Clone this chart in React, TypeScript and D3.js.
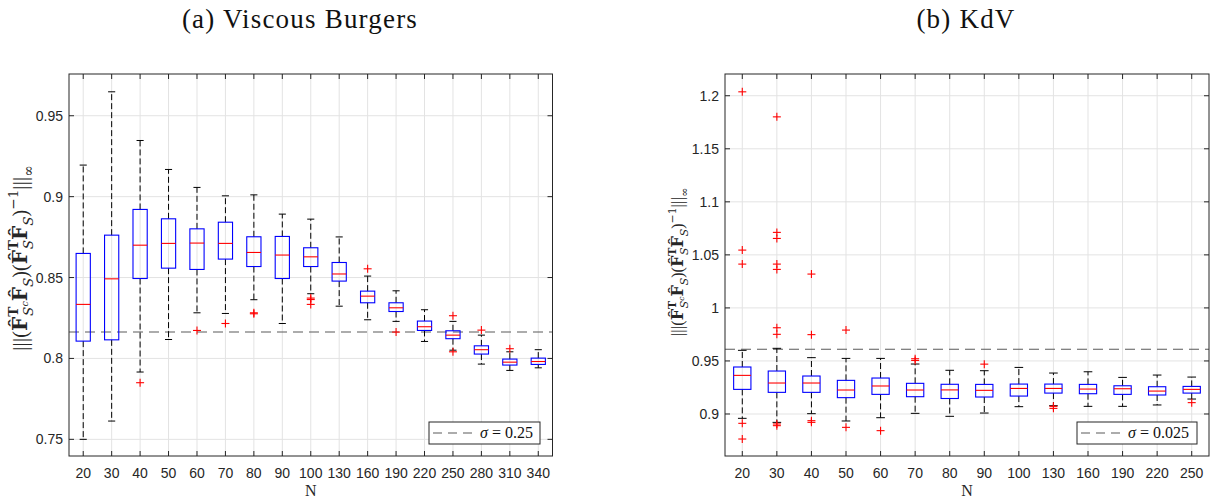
import React from "react";
import * as d3 from "d3";

// ---------- Panel (a) Viscous Burgers ----------
const categoriesA = [20, 30, 40, 50, 60, 70, 80, 90, 100, 130, 160, 190, 220, 250, 280, 310, 340];
const whiskerLowA = [0.75, 0.7613, 0.7916, 0.8117, 0.8282, 0.8278, 0.8363, 0.8216, 0.84, 0.8323, 0.8239, 0.8229, 0.8105, 0.8051, 0.7965, 0.7926, 0.7942];
const q1A = [0.8107, 0.8115, 0.8494, 0.8558, 0.855, 0.8614, 0.8568, 0.8494, 0.8568, 0.8478, 0.8344, 0.829, 0.8173, 0.8122, 0.8027, 0.7959, 0.7963];
const medianA = [0.8334, 0.8492, 0.87, 0.8711, 0.8713, 0.8711, 0.8655, 0.8639, 0.8628, 0.8522, 0.8385, 0.8313, 0.8196, 0.8144, 0.8054, 0.7977, 0.7981];
const q3A = [0.8649, 0.8762, 0.8921, 0.8863, 0.8801, 0.8842, 0.8752, 0.8754, 0.8684, 0.8593, 0.8416, 0.8344, 0.8231, 0.8171, 0.8078, 0.7996, 0.8002];
const whiskerHighA = [0.9195, 0.9648, 0.9347, 0.9168, 0.9057, 0.9005, 0.9011, 0.8892, 0.8861, 0.8751, 0.8509, 0.8418, 0.8301, 0.8229, 0.8144, 0.8041, 0.8054];
const outlierCatsA = [40, 60, 70, 80, 80, 100, 100, 100, 160, 190, 250, 250, 280, 310];
const outlierValsA = [0.785, 0.8173, 0.8216, 0.8276, 0.8282, 0.8373, 0.8364, 0.8334, 0.8554, 0.8163, 0.8264, 0.8041, 0.8175, 0.806];
const yTicksA = [0.75, 0.8, 0.85, 0.9, 0.95];
const yDomainA = [0.7397, 0.9758];
const refA = 0.8163;
const legendA = "0.25";

// ---------- Panel (b) KdV ----------
const categoriesB = [20, 30, 40, 50, 60, 70, 80, 90, 100, 130, 160, 190, 220, 250];
const whiskerLowB = [0.8959, 0.8921, 0.9003, 0.8934, 0.8965, 0.9006, 0.8978, 0.9009, 0.9069, 0.9078, 0.9072, 0.9072, 0.9085, 0.9141];
const q1B = [0.9232, 0.9204, 0.9204, 0.9154, 0.9185, 0.9163, 0.9146, 0.916, 0.9169, 0.9197, 0.9191, 0.9185, 0.9179, 0.9197];
const medianB = [0.9364, 0.9292, 0.9292, 0.9226, 0.9264, 0.9226, 0.9227, 0.9223, 0.9241, 0.9241, 0.9235, 0.9238, 0.9216, 0.9232];
const q3B = [0.9443, 0.9405, 0.9358, 0.9317, 0.9339, 0.9289, 0.928, 0.9279, 0.9282, 0.9282, 0.9279, 0.9266, 0.9257, 0.926];
const whiskerHighB = [0.96, 0.9619, 0.9531, 0.9524, 0.9524, 0.9471, 0.9412, 0.9408, 0.9439, 0.9386, 0.9398, 0.9345, 0.9367, 0.9348];
const outlierCatsB = [20, 20, 20, 20, 20, 30, 30, 30, 30, 30, 30, 30, 30, 30, 40, 40, 40, 40, 50, 50, 60, 70, 70, 90, 130, 130, 250];
const outlierValsB = [1.2037, 1.0545, 1.0413, 0.8912, 0.8764, 1.1801, 1.0712, 1.0655, 1.0413, 1.0363, 0.9813, 0.9751, 0.8906, 0.889, 1.0319, 0.9748, 0.8937, 0.8921, 0.9791, 0.8874, 0.8843, 0.9521, 0.9505, 0.947, 0.9072, 0.9053, 0.9107];
const yTicksB = [0.9, 0.95, 1, 1.05, 1.1, 1.15, 1.2];
const yDomainB = [0.8604, 1.2205];
const refB = 0.961;
const legendB = "0.025";

const AX = "#262626";
const SANS = "'Liberation Sans', Arial, sans-serif";
const SERIF = "'Liberation Serif', 'Times New Roman', serif";
const MATH = "'DejaVu Serif', serif";

function YLabel({ x, y, fs }: { x: number; y: number; fs: number }) {
  const s = fs * 0.68;
  const up = fs * 0.45;
  const dn = fs * 0.3;
  const tW = s * 0.68;
  const hatF = "F\u0302";
  return (
    <text
      transform={`translate(${x},${y}) rotate(-90)`}
      textAnchor="middle"
      fontFamily={MATH}
      fontSize={fs}
      fill={AX}
    >
      <tspan fontFamily={SERIF} fontWeight="300" letterSpacing={fs * 0.02}>|||</tspan>
      <tspan fontFamily={SERIF}>(</tspan>
      <tspan fontWeight="bold">{hatF}</tspan>
      <tspan dy={-up} fontSize={s} fontWeight="bold">T</tspan>
      <tspan dx={-tW} dy={up + dn} fontSize={s} fontStyle="italic">S</tspan>
      <tspan dy={-s * 0.35} fontSize={s * 0.7} fontStyle="italic">c</tspan>
      <tspan dy={s * 0.35 - dn} fontWeight="bold">{hatF}</tspan>
      <tspan dy={dn} fontSize={s} fontStyle="italic">S</tspan>
      <tspan dy={-dn} fontFamily={SERIF}>)(</tspan>
      <tspan fontWeight="bold">{hatF}</tspan>
      <tspan dy={-up} fontSize={s} fontWeight="bold">T</tspan>
      <tspan dx={-tW} dy={up + dn} fontSize={s} fontStyle="italic">S</tspan>
      <tspan dy={-dn} fontWeight="bold">{hatF}</tspan>
      <tspan dy={dn} fontSize={s} fontStyle="italic">S</tspan>
      <tspan dy={-dn} fontFamily={SERIF}>)</tspan>
      <tspan dy={-up} fontSize={s}>−1</tspan>
      <tspan dy={up} fontFamily={SERIF} letterSpacing={fs * 0.02}>|||</tspan>
      <tspan dy={dn} fontSize={s}>∞</tspan>
    </text>
  );
}

type PanelProps = {
  cats: number[];
  low: number[];
  q1: number[];
  med: number[];
  q3: number[];
  high: number[];
  oCats: number[];
  oVals: number[];
  yTicks: number[];
  yDomain: number[];
  refVal: number;
  legend: string;
  x0: number;
  x1: number;
  title: string;
  titleX: number;
  labelX: number;
  labelFs: number;
  legendBox: [number, number];
};

function Panel(p: PanelProps) {
  const yTop = 74;
  const yBot = 456;
  const x = d3.scalePoint<number>().domain(p.cats).range([p.x0, p.x1]).padding(0.5);
  const y = d3.scaleLinear().domain(p.yDomain).range([yBot, yTop]);
  const step = x.step();
  const bw = step * 0.5;
  const cw = bw * 0.5;
  const tick = 5;
  const [lx0, lx1] = p.legendBox;
  const ly0 = 422;
  const ly1 = 444;
  return (
    <g>
      <text x={p.titleX} y={28} textAnchor="middle" fontFamily={SERIF} fontSize={27} letterSpacing={1.2} fill="#111">
        {p.title}
      </text>
      {/* grid */}
      {p.yTicks.map((t) => (
        <line key={"gy" + t} x1={p.x0} x2={p.x1} y1={y(t)} y2={y(t)} stroke="#e3e3e3" strokeWidth={1} />
      ))}
      {p.cats.map((c) => (
        <line key={"gx" + c} x1={x(c)} x2={x(c)} y1={yTop} y2={yBot} stroke="#e3e3e3" strokeWidth={1} />
      ))}
      {/* reference line */}
      <line x1={p.x0} x2={p.x1} y1={y(p.refVal)} y2={y(p.refVal)} stroke="#5a5a5a" strokeWidth={1.1} strokeDasharray="10,6" />
      {/* boxes */}
      {p.cats.map((c, i) => {
        const cx = x(c)!;
        return (
          <g key={"b" + c}>
            <line x1={cx} x2={cx} y1={y(p.q3[i])} y2={y(p.high[i])} stroke="#000" strokeWidth={1} strokeDasharray="6,3" />
            <line x1={cx} x2={cx} y1={y(p.q1[i])} y2={y(p.low[i])} stroke="#000" strokeWidth={1} strokeDasharray="6,3" />
            <line x1={cx - cw / 2} x2={cx + cw / 2} y1={y(p.high[i])} y2={y(p.high[i])} stroke="#000" strokeWidth={1} />
            <line x1={cx - cw / 2} x2={cx + cw / 2} y1={y(p.low[i])} y2={y(p.low[i])} stroke="#000" strokeWidth={1} />
            <rect x={cx - bw / 2} y={y(p.q3[i])} width={bw} height={y(p.q1[i]) - y(p.q3[i])} fill="none" stroke="#0000ff" strokeWidth={1.1} />
            <line x1={cx - bw / 2} x2={cx + bw / 2} y1={y(p.med[i])} y2={y(p.med[i])} stroke="#ff0000" strokeWidth={1.1} />
          </g>
        );
      })}
      {/* outliers */}
      {p.oCats.map((c, i) => {
        const cx = x(c)!;
        const cy = y(p.oVals[i]);
        return (
          <g key={"o" + i} stroke="#ff0000" strokeWidth={1.1}>
            <line x1={cx - 4} x2={cx + 4} y1={cy} y2={cy} />
            <line x1={cx} x2={cx} y1={cy - 4} y2={cy + 4} />
          </g>
        );
      })}
      {/* frame */}
      <rect x={p.x0} y={yTop} width={p.x1 - p.x0} height={yBot - yTop} fill="none" stroke={AX} strokeWidth={1} />
      {p.cats.map((c) => (
        <g key={"t" + c} stroke={AX} strokeWidth={1}>
          <line x1={x(c)} x2={x(c)} y1={yBot} y2={yBot - tick} />
          <line x1={x(c)} x2={x(c)} y1={yTop} y2={yTop + tick} />
        </g>
      ))}
      {p.yTicks.map((t) => (
        <g key={"yt" + t} stroke={AX} strokeWidth={1}>
          <line x1={p.x0} x2={p.x0 + tick} y1={y(t)} y2={y(t)} />
          <line x1={p.x1} x2={p.x1 - tick} y1={y(t)} y2={y(t)} />
        </g>
      ))}
      {/* tick labels */}
      {p.cats.map((c) => (
        <text key={"xl" + c} x={x(c)} y={478} textAnchor="middle" fontFamily={SANS} fontSize={14} fill={AX}>
          {c}
        </text>
      ))}
      {p.yTicks.map((t) => (
        <text key={"yl" + t} x={p.x0 - 6} y={y(t) + 5} textAnchor="end" fontFamily={SANS} fontSize={14} fill={AX}>
          {String(t)}
        </text>
      ))}
      <text x={(p.x0 + p.x1) / 2} y={496} textAnchor="middle" fontFamily={SERIF} fontSize={16} fill={AX}>
        N
      </text>
      <YLabel x={p.labelX} y={p.labelFs > 18 ? 258 : 262} fs={p.labelFs} />
      {/* legend */}
      <rect x={lx0} y={ly0} width={lx1 - lx0} height={ly1 - ly0} fill="#fff" stroke={AX} strokeWidth={1} />
      <line x1={lx0 + 4} x2={lx0 + 48} y1={(ly0 + ly1) / 2} y2={(ly0 + ly1) / 2} stroke="#5a5a5a" strokeWidth={1.1} strokeDasharray="9,6" />
      <text x={lx0 + 51} y={ly1 - 6} fontFamily={SERIF} fontSize={16} fill="#111">
        <tspan fontStyle="italic">σ</tspan>
        <tspan> = {p.legend}</tspan>
      </text>
    </g>
  );
}

export default function App() {
  return (
    <svg
      width={1213}
      height={500}
      viewBox="0 0 1213 500"
      style={{ position: "absolute", left: 0, top: 0, background: "#fff" }}
    >
      <rect width={1213} height={500} fill="#fff" />
      <Panel
        cats={categoriesA}
        low={whiskerLowA}
        q1={q1A}
        med={medianA}
        q3={q3A}
        high={whiskerHighA}
        oCats={outlierCatsA}
        oVals={outlierValsA}
        yTicks={yTicksA}
        yDomain={yDomainA}
        refVal={refA}
        legend={legendA}
        x0={69}
        x1={552.5}
        title="(a) Viscous Burgers"
        titleX={300}
        labelX={27}
        labelFs={20}
        legendBox={[429, 540]}
      />
      <Panel
        cats={categoriesB}
        low={whiskerLowB}
        q1={q1B}
        med={medianB}
        q3={q3B}
        high={whiskerHighB}
        oCats={outlierCatsB}
        oVals={outlierValsB}
        yTicks={yTicksB}
        yDomain={yDomainB}
        refVal={refB}
        legend={legendB}
        x0={725}
        x1={1209}
        title="(b) KdV"
        titleX={966}
        labelX={683}
        labelFs={16}
        legendBox={[1077, 1197]}
      />
    </svg>
  );
}
